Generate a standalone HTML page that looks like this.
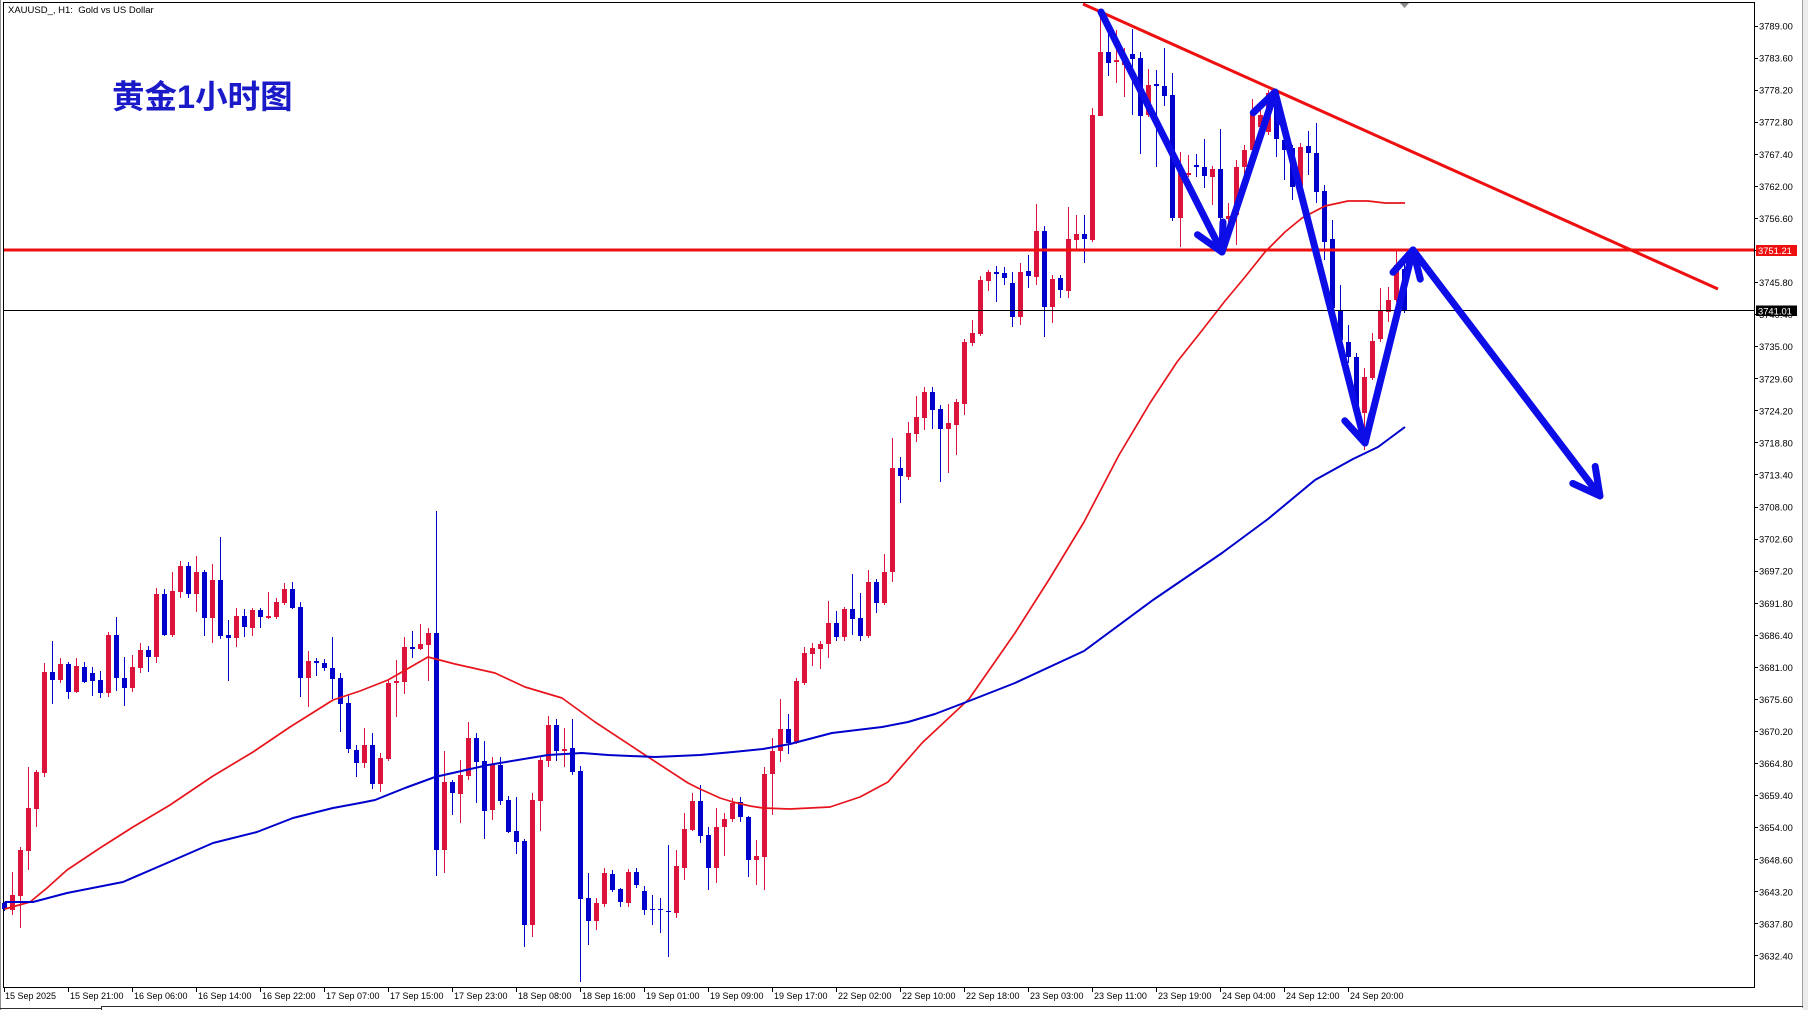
<!DOCTYPE html>
<html><head><meta charset="utf-8"><style>
html,body{margin:0;padding:0;background:#fff;width:1808px;height:1010px;overflow:hidden}
svg{display:block}
text{font-family:"Liberation Sans",sans-serif}
</style></head><body>
<svg width="1808" height="1010" viewBox="0 0 1808 1010" xmlns="http://www.w3.org/2000/svg">
<rect x="0" y="0" width="1808" height="1010" fill="#fff"/>
<!-- window borders -->
<line x1="0.5" y1="0" x2="0.5" y2="1010" stroke="#909090"/>
<rect x="1803" y="0" width="5" height="1010" fill="#ececec"/>
<line x1="1802.5" y1="0" x2="1802.5" y2="1008" stroke="#a0a0a0"/>
<line x1="101" y1="1006.5" x2="1803" y2="1006.5" stroke="#303030"/>
<line x1="0" y1="1008.5" x2="101" y2="1008.5" stroke="#303030"/>
<line x1="101.5" y1="1006" x2="101.5" y2="1010" stroke="#303030"/>
<!-- chart frame -->
<rect x="3.5" y="2.5" width="1751" height="985" fill="none" stroke="#000"/>
<polygon points="1400,3 1409,3 1404.5,8" fill="#8a8a8a"/>

<text x="8" y="13" font-size="9.5" fill="#000" xml:space="preserve">XAUUSD_, H1:  Gold vs US Dollar</text>
<text x="112" y="108" font-size="32.5" font-weight="bold" fill="#1a1ac8" style="font-family:'Liberation Sans','Noto Sans CJK SC',sans-serif">黄金1小时图</text>

<!-- candles -->
<path fill="none" stroke="#dc143c" stroke-width="1" d="M12.5 872V915M20.5 847V928M28.5 767V870M36.5 770V827M44.5 663V777M60.5 658V683M76.5 658V693M108.5 632V697M132.5 655V692M140.5 643V673M156.5 588V663M172.5 572V637M180.5 561V598M196.5 556V612M212.5 564V643M236.5 608V647M252.5 608V636M268.5 592V619M276.5 598V619M284.5 583V605M308.5 651V707M364.5 728V768M380.5 753V792M388.5 680V761M396.5 660V717M404.5 637V694M420.5 624V650M428.5 628V681M444.5 751V873M460.5 760V823M468.5 722V780M492.5 757V820M532.5 793V937M540.5 757V831M548.5 716V767M564.5 728V767M596.5 898V930M604.5 868V907M628.5 869V907M676.5 850V918M684.5 813V880M692.5 793V831M716.5 808V883M724.5 813V856M732.5 798V822M756.5 840V885M764.5 767V890M772.5 738V815M780.5 699V762M796.5 678V744M804.5 647V685M812.5 643V666M820.5 641V669M828.5 601V658M844.5 607V641M868.5 570V638M884.5 554V605M892.5 438V582M908.5 422V480M916.5 396V442M924.5 387V430M948.5 404V473M956.5 399V455M964.5 339V415M972.5 320V346M980.5 276V336M988.5 270V291M1020.5 263V325M1036.5 204V285M1052.5 275V323M1068.5 207V298M1076.5 215V250M1092.5 108V242M1100.5 12V116M1116.5 30V83M1124.5 48V97M1148.5 69V117M1180.5 152V247M1188.5 155V177M1212.5 166V205M1228.5 203V232M1236.5 160V245M1244.5 145V177M1252.5 99V152M1260.5 103V130M1268.5 90V135M1300.5 143V188M1364.5 368V450M1372.5 333V380M1380.5 288V342M1388.5 287V322M1396.5 251V302"/>
<path fill="#dc143c" d="M10 895h5v15h-5zM18 850h5v46h-5zM26 808h5v43h-5zM34 772h5v37h-5zM42 672h5v101h-5zM58 664h5v16h-5zM74 666h5v26h-5zM106 635h5v58h-5zM130 667h5v21h-5zM138 650h5v18h-5zM154 594h5v63h-5zM170 591h5v44h-5zM178 566h5v26h-5zM194 572h5v22h-5zM210 580h5v38h-5zM234 616h5v22h-5zM250 610h5v18h-5zM266 616h5v2h-5zM274 602h5v15h-5zM282 589h5v14h-5zM306 661h5v17h-5zM362 745h5v18h-5zM378 758h5v26h-5zM386 683h5v76h-5zM394 681h5v2h-5zM402 647h5v35h-5zM418 644h5v5h-5zM426 633h5v12h-5zM442 782h5v68h-5zM458 775h5v19h-5zM466 738h5v38h-5zM490 765h5v45h-5zM530 800h5v125h-5zM538 760h5v41h-5zM546 725h5v36h-5zM562 749h5v2h-5zM594 903h5v18h-5zM602 873h5v31h-5zM626 872h5v31h-5zM674 866h5v47h-5zM682 829h5v39h-5zM690 801h5v29h-5zM714 827h5v41h-5zM722 819h5v8h-5zM730 803h5v16h-5zM754 856h5v4h-5zM762 774h5v83h-5zM770 751h5v23h-5zM778 729h5v22h-5zM794 681h5v62h-5zM802 653h5v30h-5zM810 648h5v6h-5zM818 644h5v5h-5zM826 623h5v21h-5zM842 609h5v28h-5zM866 582h5v54h-5zM882 572h5v31h-5zM890 468h5v104h-5zM906 433h5v44h-5zM914 417h5v17h-5zM922 392h5v26h-5zM946 423h5v6h-5zM954 402h5v23h-5zM962 342h5v62h-5zM970 333h5v10h-5zM978 280h5v54h-5zM986 272h5v9h-5zM1018 272h5v45h-5zM1034 231h5v46h-5zM1050 279h5v28h-5zM1066 239h5v52h-5zM1074 234h5v6h-5zM1090 115h5v125h-5zM1098 52h5v64h-5zM1114 60h5v2h-5zM1122 62h5v3h-5zM1146 85h5v30h-5zM1178 173h5v45h-5zM1186 173h5v2h-5zM1210 169h5v8h-5zM1226 216h5v3h-5zM1234 167h5v48h-5zM1242 150h5v17h-5zM1250 112h5v38h-5zM1258 115h5v12h-5zM1266 93h5v39h-5zM1298 147h5v39h-5zM1362 377h5v36h-5zM1370 341h5v37h-5zM1378 310h5v29h-5zM1386 300h5v12h-5zM1394 265h5v35h-5z"/>
<path fill="none" stroke="#0000cd" stroke-width="1" d="M4.5 902V911M52.5 641V704M68.5 662V699M84.5 662V683M92.5 667V696M100.5 671V698M116.5 617V691M124.5 657V706M148.5 646V672M164.5 589V636M188.5 562V598M204.5 570V636M220.5 537V639M228.5 620V681M244.5 609V637M260.5 608V628M292.5 582V609M300.5 602V697M316.5 658V676M324.5 659V671M332.5 637V699M340.5 673V732M348.5 695V753M356.5 745V777M372.5 733V789M412.5 631V658M436.5 511V876M452.5 780V815M476.5 733V803M484.5 741V839M500.5 757V805M508.5 796V833M516.5 797V854M524.5 839V947M556.5 719V761M572.5 719V775M580.5 766V982M588.5 873V945M612.5 870V892M620.5 888V907M636.5 868V888M644.5 886V915M652.5 895V925M660.5 898V933M668.5 845V957M700.5 785V843M708.5 827V890M740.5 797V822M748.5 816V877M788.5 714V754M836.5 611V641M852.5 574V635M860.5 593V641M876.5 579V613M900.5 457V503M932.5 387V429M940.5 405V482M996.5 266V302M1004.5 267V285M1012.5 272V327M1028.5 255V288M1044.5 226V337M1060.5 275V298M1084.5 215V263M1108.5 33V76M1132.5 29V115M1140.5 52V154M1156.5 70V167M1164.5 48V106M1172.5 73V221M1196.5 154V177M1204.5 139V188M1220.5 129V220M1276.5 92V157M1284.5 135V180M1292.5 145V200M1308.5 131V175M1316.5 123V203M1324.5 185V260M1332.5 220V310M1340.5 285V347M1348.5 325V363M1356.5 353V413M1404.5 263V313"/>
<path fill="#0000cd" d="M2 903h5v6h-5zM50 672h5v8h-5zM66 664h5v28h-5zM82 667h5v15h-5zM90 673h5v8h-5zM98 680h5v13h-5zM114 635h5v43h-5zM122 678h5v10h-5zM146 650h5v7h-5zM162 594h5v41h-5zM186 566h5v28h-5zM202 572h5v46h-5zM218 580h5v56h-5zM226 635h5v3h-5zM242 616h5v11h-5zM258 610h5v7h-5zM290 589h5v19h-5zM298 607h5v71h-5zM314 661h5v2h-5zM322 663h5v5h-5zM330 668h5v11h-5zM338 678h5v26h-5zM346 703h5v46h-5zM354 750h5v13h-5zM370 745h5v39h-5zM410 647h5v2h-5zM434 633h5v217h-5zM450 782h5v11h-5zM474 738h5v24h-5zM482 761h5v50h-5zM498 765h5v36h-5zM506 800h5v32h-5zM514 831h5v11h-5zM522 841h5v84h-5zM554 725h5v26h-5zM570 748h5v24h-5zM578 771h5v128h-5zM586 898h5v23h-5zM610 874h5v16h-5zM618 889h5v13h-5zM634 872h5v13h-5zM642 891h5v19h-5zM650 909h5v1h-5zM658 909h5v1h-5zM666 911h5v1h-5zM698 801h5v35h-5zM706 835h5v33h-5zM738 802h5v15h-5zM746 817h5v43h-5zM786 729h5v14h-5zM834 623h5v14h-5zM850 609h5v10h-5zM858 618h5v18h-5zM874 582h5v21h-5zM898 468h5v8h-5zM930 392h5v18h-5zM938 409h5v20h-5zM994 272h5v2h-5zM1002 273h5v5h-5zM1010 283h5v34h-5zM1026 271h5v5h-5zM1042 231h5v76h-5zM1058 278h5v12h-5zM1082 234h5v5h-5zM1106 52h5v11h-5zM1130 54h5v5h-5zM1138 58h5v58h-5zM1154 84h5v2h-5zM1162 86h5v10h-5zM1170 95h5v123h-5zM1194 165h5v2h-5zM1202 167h5v9h-5zM1218 169h5v49h-5zM1274 103h5v36h-5zM1282 140h5v10h-5zM1290 148h5v39h-5zM1306 146h5v7h-5zM1314 153h5v39h-5zM1322 191h5v51h-5zM1330 239h5v69h-5zM1338 310h5v30h-5zM1346 342h5v15h-5zM1354 357h5v53h-5zM1402 269h5v41h-5z"/>

<!-- moving averages -->
<polyline fill="none" stroke="#e8141c" stroke-width="1.7" stroke-linejoin="round" points="4.7,909 30,902 47,888 67,870 100,848 133,827 170,805 213,776 253,752 290,727 333,700 360,691 388,680 428,657 455,664 495,673 525,687 562,698 595,722 642,753 688,783 700,789 720,798 733,802 750,806 763,808 790,809 830,807 860,797 888,782 922,743 969,699 1015,633 1050,578 1084,522 1119,455 1150,403 1177,362 1200,333 1225,301 1245,277 1265,252 1285,232 1302,218 1325,206 1348,201 1368,201 1385,203 1405,203"/>
<polyline fill="none" stroke="#0000cc" stroke-width="2" stroke-linejoin="round" points="4.7,902 33,902 67,893 123,882 167,863 213,843 257,832 293,818 333,808 360,803 375,800 405,788 435,777 488,765 548,755 582,753 608,755 655,757 700,755 733,752 763,749 790,744 832,733 882,727 908,722 935,714 969,701 1015,683 1084,651 1153,600 1222,553 1268,519 1315,480 1353,459 1378,447 1405,427"/>

<!-- horizontal lines -->
<line x1="4" y1="310.5" x2="1754" y2="310.5" stroke="#000" stroke-width="1"/>
<line x1="4" y1="250" x2="1754" y2="250" stroke="#ee1010" stroke-width="3"/>
<!-- trend line -->
<line x1="1083" y1="4" x2="1718" y2="289" stroke="#ee1010" stroke-width="3"/>

<!-- arrows -->
<g fill="none" stroke="#0d0de8" stroke-width="7" stroke-linecap="round" stroke-linejoin="round">
<path d="M1101 12L1222 252M1223 222L1222 252L1197.5 234.7"/>
<path d="M1222 252L1275 92M1253.3 112.7L1275 92L1280 121.6"/>
<path d="M1275 92L1365 443M1372 413.8L1365 443L1344.8 420.8"/>
<path d="M1365 443L1413 250M1393 272.3L1413 250L1420.3 279.1"/>
<path d="M1413 250L1600 496M1595.2 466.4L1600 496L1572.8 483.4"/>
</g>

<!-- price axis -->
<g stroke="#000" stroke-width="1">
<path d="M1754 26.5h4M1754 58.5h4M1754 90.5h4M1754 122.5h4M1754 154.5h4M1754 186.5h4M1754 218.5h4M1754 250.5h4M1754 282.5h4M1754 314.5h4M1754 346.5h4M1754 378.5h4M1754 410.5h4M1754 442.5h4M1754 474.5h4M1754 507.5h4M1754 539.5h4M1754 571.5h4M1754 603.5h4M1754 635.5h4M1754 667.5h4M1754 699.5h4M1754 731.5h4M1754 763.5h4M1754 795.5h4M1754 827.5h4M1754 859.5h4M1754 891.5h4M1754 923.5h4M1754 955.5h4"/>
</g>
<g font-size="9.4" fill="#000">
<text x="1759" y="29.5">3789.00</text>
<text x="1759" y="61.6">3783.60</text>
<text x="1759" y="93.6">3778.20</text>
<text x="1759" y="125.7">3772.80</text>
<text x="1759" y="157.8">3767.40</text>
<text x="1759" y="189.9">3762.00</text>
<text x="1759" y="221.9">3756.60</text>
<text x="1759" y="286.1">3745.80</text>
<text x="1759" y="318.1">3740.40</text>
<text x="1759" y="350.2">3735.00</text>
<text x="1759" y="382.3">3729.60</text>
<text x="1759" y="414.3">3724.20</text>
<text x="1759" y="446.4">3718.80</text>
<text x="1759" y="478.5">3713.40</text>
<text x="1759" y="510.5">3708.00</text>
<text x="1759" y="542.6">3702.60</text>
<text x="1759" y="574.7">3697.20</text>
<text x="1759" y="606.8">3691.80</text>
<text x="1759" y="638.8">3686.40</text>
<text x="1759" y="670.9">3681.00</text>
<text x="1759" y="703.0">3675.60</text>
<text x="1759" y="735.0">3670.20</text>
<text x="1759" y="767.1">3664.80</text>
<text x="1759" y="799.2">3659.40</text>
<text x="1759" y="831.2">3654.00</text>
<text x="1759" y="863.3">3648.60</text>
<text x="1759" y="895.4">3643.20</text>
<text x="1759" y="927.5">3637.80</text>
<text x="1759" y="959.5">3632.40</text>
</g>
<rect x="1756" y="245" width="41" height="11" fill="#ee1010"/>
<text x="1758" y="254" font-size="9.4" fill="#fff">3751.21</text>
<rect x="1756" y="305.5" width="41" height="10.5" fill="#000"/>
<text x="1758" y="314.5" font-size="9.4" fill="#fff">3741.01</text>

<!-- time axis -->
<path stroke="#000" stroke-width="1" d="M4.5 988v4M68.5 988v4M132.5 988v4M196.5 988v4M260.5 988v4M324.5 988v4M388.5 988v4M452.5 988v4M516.5 988v4M580.5 988v4M644.5 988v4M708.5 988v4M772.5 988v4M836.5 988v4M900.5 988v4M964.5 988v4M1028.5 988v4M1092.5 988v4M1156.5 988v4M1220.5 988v4M1284.5 988v4M1348.5 988v4"/>
<g font-size="9" fill="#000">
<text x="5" y="999">15 Sep 2025</text>
<text x="70" y="999">15 Sep 21:00</text>
<text x="134" y="999">16 Sep 06:00</text>
<text x="198" y="999">16 Sep 14:00</text>
<text x="262" y="999">16 Sep 22:00</text>
<text x="326" y="999">17 Sep 07:00</text>
<text x="390" y="999">17 Sep 15:00</text>
<text x="454" y="999">17 Sep 23:00</text>
<text x="518" y="999">18 Sep 08:00</text>
<text x="582" y="999">18 Sep 16:00</text>
<text x="646" y="999">19 Sep 01:00</text>
<text x="710" y="999">19 Sep 09:00</text>
<text x="774" y="999">19 Sep 17:00</text>
<text x="838" y="999">22 Sep 02:00</text>
<text x="902" y="999">22 Sep 10:00</text>
<text x="966" y="999">22 Sep 18:00</text>
<text x="1030" y="999">23 Sep 03:00</text>
<text x="1094" y="999">23 Sep 11:00</text>
<text x="1158" y="999">23 Sep 19:00</text>
<text x="1222" y="999">24 Sep 04:00</text>
<text x="1286" y="999">24 Sep 12:00</text>
<text x="1350" y="999">24 Sep 20:00</text>
</g>
</svg>
</body></html>
